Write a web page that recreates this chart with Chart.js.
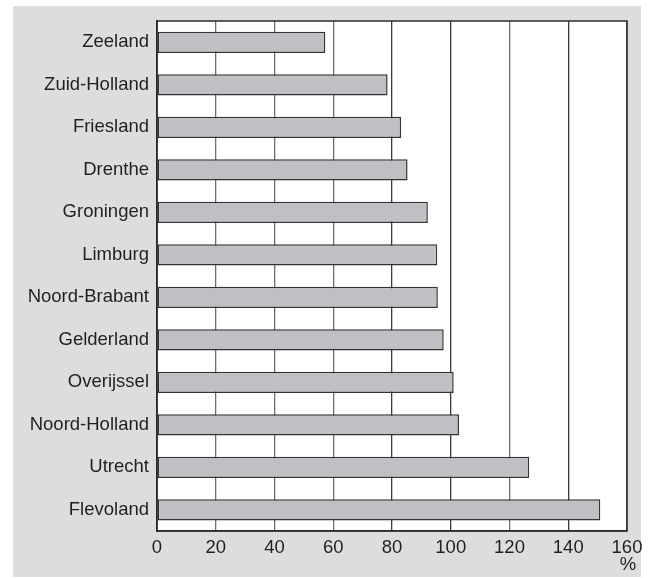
<!DOCTYPE html>
<html>
<head>
<meta charset="utf-8">
<script src="https://cdn.jsdelivr.net/npm/chart.js@4"></script>
<style>
  html, body { margin: 0; padding: 0; background: #fff; }
  #wrap { width: 656px; height: 578px; }
</style>
</head>
<body>
<div id="wrap"><canvas id="myChart" width="656" height="578"></canvas></div>
<script>
const provinces = [
    'Zeeland', 'Zuid-Holland', 'Friesland', 'Drenthe', 'Groningen', 'Limburg',
    'Noord-Brabant', 'Gelderland', 'Overijssel', 'Noord-Holland', 'Utrecht', 'Flevoland'
];
const values = [57.3, 78.5, 83.1, 85.3, 92.2, 95.4, 95.6, 97.6, 101.0, 102.8, 126.7, 150.9];
const xMin = 0;
const xMax = 160;
const xStep = 20;
const unitLabel = '%';

const ctx = document.querySelector('#myChart');

// grey panel behind everything, white plot area, frame and unit label
const frame = {
    id: 'frame',
    beforeDraw(chart) {
        const c = chart.ctx;
        const a = chart.chartArea;
        c.save();
        c.fillStyle = '#dcdddf';
        c.fillRect(13, 6, 628, 571);
        c.fillStyle = '#ffffff';
        c.fillRect(a.left, a.top, a.right - a.left, a.bottom - a.top);
        c.restore();
    },
    afterDraw(chart) {
        const c = chart.ctx;
        const a = chart.chartArea;
        c.save();
        c.strokeStyle = '#2b2b2b';
        c.lineWidth = 1.5;
        c.strokeRect(a.left, a.top, a.right - a.left, a.bottom - a.top);
        c.fillStyle = '#231f20';
        c.font = '18.5px "Liberation Sans", Arial, sans-serif';
        c.textAlign = 'center';
        c.textBaseline = 'middle';
        c.fillText(unitLabel, a.right + 1, 565);
        c.restore();
    }
};

new Chart(ctx, {
    type: 'bar',
    data: {
        labels: provinces,
        datasets: [{
            data: values,
            backgroundColor: '#bfc0c4',
            borderColor: '#333333',
            borderWidth: 1.5,
            borderSkipped: false,
            barPercentage: 0.5,
            categoryPercentage: 1.0
        }]
    },
    options: {
        indexAxis: 'y',
        responsive: false,
        animation: false,
        events: [],
        layout: { padding: { left: 0, top: 21, right: 29, bottom: 0 } },
        plugins: {
            legend: { display: false },
            tooltip: { enabled: false }
        },
        scales: {
            x: {
                min: xMin,
                max: xMax,
                afterFit: s => { s.height = 47; },
                ticks: {
                    stepSize: xStep,
                    padding: 6,
                    color: '#231f20',
                    font: { family: '"Liberation Sans", Arial, sans-serif', size: 18.5 },
                    maxRotation: 0
                },
                grid: {
                    drawTicks: false,
                    color: ctx => (ctx.tick && (ctx.tick.value === 80 || ctx.tick.value === 100 || ctx.tick.value === 140)) ? '#3a3a3a' : '#6e6e6e',
                    lineWidth: 1.3
                },
                border: { display: true, color: '#2b2b2b', width: 1.5 }
            },
            y: {
                afterFit: s => { s.width = 157; },
                ticks: {
                    padding: 8,
                    color: '#231f20',
                    font: { family: '"Liberation Sans", Arial, sans-serif', size: 18.5 }
                },
                grid: { display: false, drawTicks: false },
                border: { display: true, color: '#2b2b2b', width: 1.5 }
            }
        }
    },
    plugins: [frame]
});
</script>
</body>
</html>
